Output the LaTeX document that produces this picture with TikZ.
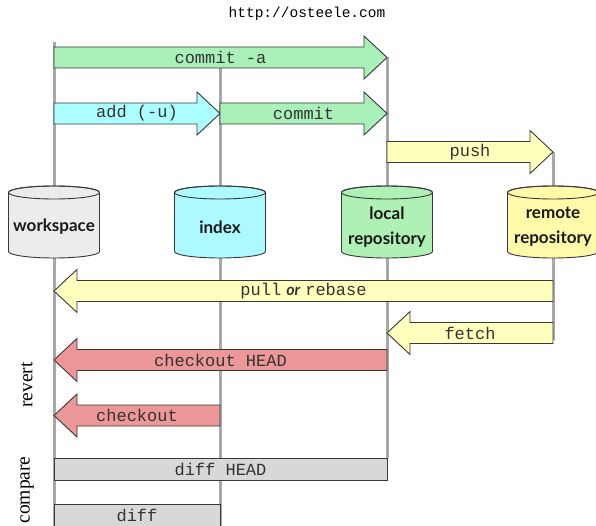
\documentclass[tikz,border=0pt]{standalone}
\usepackage{fontspec}
\newfontfamily\monof{Liberation Mono}
\newfontfamily\labf{Lato}
\newfontfamily\serf{Liberation Serif}
\definecolor{cgreen}{RGB}{170,240,185}
\definecolor{ccyan}{RGB}{172,255,255}
\definecolor{cyel}{RGB}{255,255,190}
\definecolor{cred}{RGB}{236,152,152}
\definecolor{cgray}{RGB}{216,216,216}
\definecolor{cws}{RGB}{236,236,236}
\definecolor{crem}{RGB}{255,250,170}
\definecolor{cloc}{RGB}{175,240,180}
\definecolor{cidx}{RGB}{172,250,255}
\definecolor{coutline}{RGB}{55,55,55}
\definecolor{cline}{RGB}{168,168,168}
\newcommand\rarr[6]{%
  \draw[blk, fill=#5] (#2,{#4-10.5}) -- ({#3-23},{#4-10.5}) -- ({#3-23},{#4-21.5}) -- (#3,#4) -- ({#3-23},{#4+21.5}) -- ({#3-23},{#4+10.5}) -- (#2,{#4+10.5}) -- cycle;
  \node[lbl] (#1) at ({(#2+#3)/2},#4) {#6};}
\newcommand\larr[6]{%
  \draw[blk, fill=#5] (#3,{#4-10.5}) -- ({#2+23},{#4-10.5}) -- ({#2+23},{#4-21.5}) -- (#2,#4) -- ({#2+23},{#4+21.5}) -- ({#2+23},{#4+10.5}) -- (#3,{#4+10.5}) -- cycle;
  \node[lbl] (#1) at ({(#2+#3)/2},#4) {#6};}
\newcommand\cyl[4]{%
  \draw[blk, fill=#3] ({#2-45.5},192.5) -- ({#2-45.5},251.5) arc[start angle=180,end angle=360,x radius=45.5pt,y radius=6.5pt] -- ({#2+45.5},192.5) arc[start angle=0,end angle=180,x radius=45.5pt,y radius=6.5pt] -- cycle;
  \draw[blk] (#2,192.5) ellipse [x radius=45.5pt, y radius=6.5pt];
  \node[cyllbl] (#1) at (#2,227) {#4};}
\begin{document}
\begin{tikzpicture}[x=1pt,y=-1pt,
  blk/.style={draw=coutline, line width=0.9pt, line join=miter},
  lbl/.style={font=\monof\fontsize{17}{18}\selectfont, text=black!80, inner sep=0pt},
  cyllbl/.style={font=\labf\bfseries\fontsize{17}{25}\selectfont, text=black!90, align=center, inner sep=0pt},
  life/.style={draw=cline, line width=3pt},
  side/.style={font=\serf\fontsize{19.5}{20}\selectfont, rotate=90, inner sep=0pt}]
\useasboundingbox (0,0) rectangle (596,526);
% lifelines
\coordinate (wT) at (54,42);  \coordinate (wB) at (54,526);
\coordinate (iT) at (220,68); \coordinate (iB) at (220,526);
\coordinate (lT) at (387,57); \coordinate (lB) at (387,458);
\coordinate (rT) at (553,152); \coordinate (rB) at (553,340);
\draw[life] (wT) -- (wB);
\draw[life] (iT) -- (iB);
\draw[life] (lT) -- (lB);
\draw[life] (rT) -- (rB);
% title
\node[font=\monof\fontsize{14.5}{16}\selectfont, inner sep=0pt] (url) at (307,14) {http://osteele.com};
% arrows
\rarr{commita}{54}{387}{57.5}{cgreen}{commit -a}
\rarr{add}{54}{220}{113.5}{ccyan}{add (-u)}
\rarr{commit}{220}{387}{113.5}{cgreen}{commit}
\rarr{push}{387}{553}{152}{cyel}{push}
% cylinders
\cyl{ws}{54}{cws}{workspace}
\cyl{idx}{220}{cidx}{index}
\cyl{loc}{387}{cloc}{local\\repository}
\cyl{rem}{553}{crem}{remote\\repository}
% left arrows
\larr{pull}{54}{553}{291}{cyel}{pull\hspace{5pt}{\labf\bfseries\itshape\fontsize{16}{18}\selectfont or}\hspace{5pt}rebase}
\larr{fetch}{387}{553}{333}{cyel}{fetch}
\larr{cohead}{54}{387}{360}{cred}{checkout HEAD}
\larr{co}{54}{220}{415.5}{cred}{checkout}
% compare boxes
\draw[blk, fill=cgray] (54,458) rectangle (387,480);
\node[lbl] (diffhead) at (220.5,469) {diff HEAD};
\draw[blk, fill=cgray] (54,504) rectangle (220,530);
\node[lbl] (diff) at (137,515) {diff};
% side labels
\node[side] (revert) at (27,385) {revert};
\node[side] (compare) at (27,490) {compare};
\end{tikzpicture}
\end{document}
